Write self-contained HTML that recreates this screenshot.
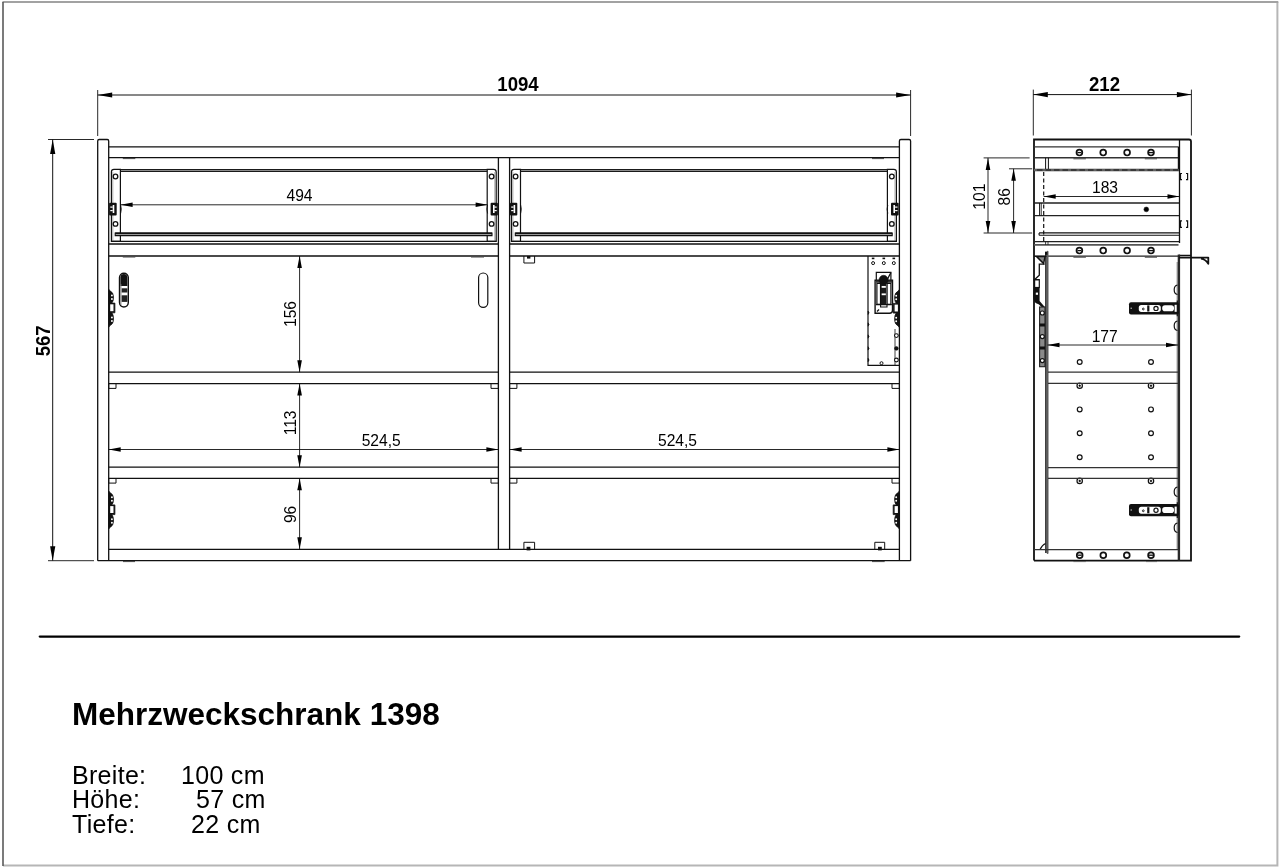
<!DOCTYPE html>
<html><head><meta charset="utf-8">
<style>
html,body{margin:0;padding:0;background:#fff;}
body{width:1280px;height:868px;overflow:hidden;position:relative;font-family:"Liberation Sans",sans-serif;}
svg{position:absolute;left:0;top:0;will-change:transform;}
.t{will-change:transform;}
svg text{font-family:"Liberation Sans",sans-serif;}
.t{position:absolute;color:#000;white-space:pre;line-height:1;}
</style></head><body>
<svg width="1280" height="868" viewBox="0 0 1280 868">

<path d="M1277.4,2 V865.4 H3" fill="none" stroke="#b6b6b6" stroke-width="2"/><path d="M2.5,2.1 H1278.3" fill="none" stroke="#a2a2a2" stroke-width="2"/>
<path d="M3,2 V866" fill="none" stroke="#5a5a5a" stroke-width="1.6"/>
<g fill="none" stroke="#111" stroke-width="1.1" stroke-linecap="butt">
<path d="M97.7,90 V136 M910.6,90 V136" stroke-width="0.9"/>
<path d="M97.7,95 H910.6" stroke-width="1"/><path d="M97.70,95.00 L112.20,92.40 L112.20,97.60 Z" fill="#000" stroke="none"/><path d="M910.60,95.00 L896.10,97.60 L896.10,92.40 Z" fill="#000" stroke="none"/>
<text x="0" y="0" font-size="19.7" font-weight="bold" text-anchor="middle" transform="translate(518 90.8) scale(0.945 1)" fill="#000" stroke="none">1094</text>
<path d="M48,139.5 H94 M48,560.7 H94" stroke-width="0.9"/>
<path d="M52.7,139.5 V560.7" stroke-width="1"/><path d="M52.70,139.50 L55.30,154.00 L50.10,154.00 Z" fill="#000" stroke="none"/><path d="M52.70,560.70 L50.10,546.20 L55.30,546.20 Z" fill="#000" stroke="none"/>
<text x="0" y="0" font-size="19.7" font-weight="bold" text-anchor="middle" transform="translate(49.5 340.8) rotate(-90) scale(0.945 1)" fill="#000" stroke="none">567</text>
<path d="M97.7,560.7 V141.0 Q97.7,139.5 99.2,139.5 H107.2 Q108.7,139.5 108.7,141.0 V560.7" stroke-width="1.3"/>
<path d="M899.4,560.7 V141.0 Q899.4,139.5 900.9,139.5 H909.1 Q910.6,139.5 910.6,141.0 V560.7" stroke-width="1.3"/>
<path d="M97.7,560.7 H910.6" stroke-width="1.3"/>
<path d="M108.7,146.8 H899.4 M108.7,157.7 H899.4" stroke-width="1.3"/>
<path d="M498.4,157.7 V549.2 M509.6,157.7 V549.2" stroke-width="1.3"/>
<path d="M108.7,549.4 H899.4" stroke-width="1.3"/>
<path d="M108.7,244 H498.4 M509.6,244 H899.4" stroke-width="1.3"/>
<path d="M108.7,256 H498.4 M509.6,256 H899.4" stroke-width="1.3"/>
<path d="M108.7,372.2 H498.4 M509.6,372.2 H899.4" stroke-width="1.3"/>
<path d="M108.7,383.6 H498.4 M509.6,383.6 H899.4" stroke-width="1.3"/>
<path d="M108.7,467.2 H498.4 M509.6,467.2 H899.4" stroke-width="1.3"/>
<path d="M108.7,478.3 H498.4 M509.6,478.3 H899.4" stroke-width="1.3"/>
<path d="M122.8,158.6 H135.3 M872,158.6 H884 M122.8,257 H135.3 M471,257 H484 M123,561.6 H135 M872,561.6 H884.7" stroke-width="1" stroke="#444"/>
<path d="M111.4,241.4 V172 Q111.4,169.4 114.0,169.4 H120.4 V241.4 Z" stroke-width="1.2"/><path d="M496.2,241.4 V172 Q496.2,169.4 493.59999999999997,169.4 H487.2 V241.4 Z" stroke-width="1.2"/><path d="M112.80000000000001,172 V241" stroke-width="0.7" stroke="#888"/><path d="M494.8,172 V241" stroke-width="0.7" stroke="#888"/><path d="M120.4,169.6 H487.2 M120.4,171.4 H487.2" stroke-width="1.2" stroke="#1a1a1a"/><path d="M111.4,241.4 H496.2" stroke-width="1.1"/><path d="M115.2,233 H492.0 V235.6 H115.2 Z" fill="#999" stroke-width="1.1"/><path d="M115.2,233.3 H492.0" stroke-width="1.6"/><circle cx="115.5" cy="176.5" r="2.3" stroke-width="1.3" fill="none"/><circle cx="115.5" cy="223.9" r="2.3" stroke-width="1.3" fill="none"/><circle cx="491.59999999999997" cy="176.5" r="2.3" stroke-width="1.3" fill="none"/><circle cx="491.59999999999997" cy="223.9" r="2.3" stroke-width="1.3" fill="none"/>
<path d="M511.5,241.4 V172 Q511.5,169.4 514.1,169.4 H520.5 V241.4 Z" stroke-width="1.2"/><path d="M896.4,241.4 V172 Q896.4,169.4 893.8,169.4 H887.4 V241.4 Z" stroke-width="1.2"/><path d="M512.9,172 V241" stroke-width="0.7" stroke="#888"/><path d="M895.0,172 V241" stroke-width="0.7" stroke="#888"/><path d="M520.5,169.6 H887.4 M520.5,171.4 H887.4" stroke-width="1.2" stroke="#1a1a1a"/><path d="M511.5,241.4 H896.4" stroke-width="1.1"/><path d="M515.3,233 H892.1999999999999 V235.6 H515.3 Z" fill="#999" stroke-width="1.1"/><path d="M515.3,233.3 H892.1999999999999" stroke-width="1.6"/><circle cx="515.6" cy="176.5" r="2.3" stroke-width="1.3" fill="none"/><circle cx="515.6" cy="223.9" r="2.3" stroke-width="1.3" fill="none"/><circle cx="891.8" cy="176.5" r="2.3" stroke-width="1.3" fill="none"/><circle cx="891.8" cy="223.9" r="2.3" stroke-width="1.3" fill="none"/>
<rect x="109.1" y="202.7" width="7.6000000000000085" height="12.7" rx="1" fill="#111" stroke="none"/><rect x="110.3" y="206.5" width="2.4" height="1.2" fill="#fff" stroke="none"/><rect x="110.3" y="210" width="2.4" height="1.2" fill="#fff" stroke="none"/><rect x="112.69999999999999" y="205" width="1.6" height="8" fill="#fff" stroke="none"/>
<rect x="490.6" y="202.7" width="7.2999999999999545" height="12.7" rx="1" fill="#111" stroke="none"/><rect x="494.29999999999995" y="206.5" width="2.4" height="1.2" fill="#fff" stroke="none"/><rect x="494.29999999999995" y="210" width="2.4" height="1.2" fill="#fff" stroke="none"/><rect x="493.0" y="205" width="1.6" height="8" fill="#fff" stroke="none"/>
<rect x="510" y="202.7" width="7.2999999999999545" height="12.7" rx="1" fill="#111" stroke="none"/><rect x="511.2" y="206.5" width="2.4" height="1.2" fill="#fff" stroke="none"/><rect x="511.2" y="210" width="2.4" height="1.2" fill="#fff" stroke="none"/><rect x="513.6" y="205" width="1.6" height="8" fill="#fff" stroke="none"/>
<rect x="891" y="202.7" width="7.7000000000000455" height="12.7" rx="1" fill="#111" stroke="none"/><rect x="895.1" y="206.5" width="2.4" height="1.2" fill="#fff" stroke="none"/><rect x="895.1" y="210" width="2.4" height="1.2" fill="#fff" stroke="none"/><rect x="893.4" y="205" width="1.6" height="8" fill="#fff" stroke="none"/>
<path d="M120.6,205 Q122,209 120.6,213.5 M487.6,205 Q486.2,209 487.6,213.5 M520.6,205 Q522,209 520.6,213.5 M887.8,205 Q886.4,209 887.8,213.5" stroke-width="0.9"/>
<path d="M120.6,204.8 H487.6" stroke-width="0.9"/><path d="M120.60,204.80 L132.60,202.50 L132.60,207.10 Z" fill="#000" stroke="none"/><path d="M487.60,204.80 L475.60,207.10 L475.60,202.50 Z" fill="#000" stroke="none"/>
<text x="0" y="0" font-size="17" font-weight="normal" text-anchor="middle" transform="translate(299.5 201) scale(0.92 1)" fill="#000" stroke="none">494</text>
<rect x="119.5" y="273.2" width="8.8" height="33.8" rx="4.4" fill="#fff" stroke="#111" stroke-width="1.4"/>
<path d="M120.4,284 V277.5 Q120.4,274 123.9,274 Q127.4,274 127.4,277.5 V286 H120.4 Z" fill="#111" stroke="none"/>
<rect x="121.6" y="288.3" width="5.8" height="4.2" fill="#222" stroke="none"/>
<rect x="121.6" y="295.3" width="5.8" height="6.6" fill="#222" stroke="none"/>
<path d="M120.9,284 V305" stroke="#777" stroke-width="0.9"/>
<rect x="478.6" y="273" width="9.2" height="34.4" rx="4.6" stroke-width="1.2"/>
<path d="M108.7,289.2 L109.9,290.8 Q113.5,292.2 113.5,297.2 Q113.5,301.5 111.8,303.09999999999997 H114.9 V312.8 H111.8 Q113.5,314.4 113.5,319.2 Q113.5,324.2 109.9,325.59999999999997 L108.7,327.2 Z" fill="#111" stroke="#111" stroke-width="0.8"/><rect x="110.2" y="304.3" width="3.3" height="6.9" fill="#fff" stroke="none"/><circle cx="111.9" cy="295.5" r="0.95" fill="#fff" stroke="none"/><circle cx="111.9" cy="299.0" r="0.95" fill="#fff" stroke="none"/><circle cx="111.9" cy="317.5" r="0.95" fill="#fff" stroke="none"/><circle cx="111.9" cy="321.0" r="0.95" fill="#fff" stroke="none"/>
<path d="M108.7,491 L109.9,492.6 Q113.5,494 113.5,499 Q113.5,503.3 111.8,504.9 H114.9 V514.6 H111.8 Q113.5,516.2 113.5,521 Q113.5,526 109.9,527.4 L108.7,529 Z" fill="#111" stroke="#111" stroke-width="0.8"/><rect x="110.2" y="506.1" width="3.3" height="6.9" fill="#fff" stroke="none"/><circle cx="111.9" cy="497.3" r="0.95" fill="#fff" stroke="none"/><circle cx="111.9" cy="500.8" r="0.95" fill="#fff" stroke="none"/><circle cx="111.9" cy="519.3" r="0.95" fill="#fff" stroke="none"/><circle cx="111.9" cy="522.8" r="0.95" fill="#fff" stroke="none"/>
<path d="M899.4,491 L898.1999999999999,492.6 Q894.6,494 894.6,499 Q894.6,503.3 896.3,504.9 H893.1999999999999 V514.6 H896.3 Q894.6,516.2 894.6,521 Q894.6,526 898.1999999999999,527.4 L899.4,529 Z" fill="#111" stroke="#111" stroke-width="0.8"/><rect x="894.6" y="506.1" width="3.3" height="6.9" fill="#fff" stroke="none"/><circle cx="896.1999999999999" cy="497.3" r="0.95" fill="#fff" stroke="none"/><circle cx="896.1999999999999" cy="500.8" r="0.95" fill="#fff" stroke="none"/><circle cx="896.1999999999999" cy="519.3" r="0.95" fill="#fff" stroke="none"/><circle cx="896.1999999999999" cy="522.8" r="0.95" fill="#fff" stroke="none"/>
<path d="M899.4,289.5 L898.1999999999999,291.1 Q894.6,292.5 894.6,297.5 Q894.6,301.8 896.3,303.4 H893.1999999999999 V313.1 H896.3 Q894.6,314.7 894.6,319.5 Q894.6,324.5 898.1999999999999,325.9 L899.4,327.5 Z" fill="#111" stroke="#111" stroke-width="0.8"/><rect x="894.6" y="304.6" width="3.3" height="6.9" fill="#fff" stroke="none"/><circle cx="896.1999999999999" cy="295.8" r="0.95" fill="#fff" stroke="none"/><circle cx="896.1999999999999" cy="299.3" r="0.95" fill="#fff" stroke="none"/><circle cx="896.1999999999999" cy="317.8" r="0.95" fill="#fff" stroke="none"/><circle cx="896.1999999999999" cy="321.3" r="0.95" fill="#fff" stroke="none"/>
<path d="M868,256 V365.3 H899.4" stroke-width="1.2"/>
<circle cx="873.1" cy="263.1" r="1.5" stroke-width="1" fill="none"/>
<rect x="871.8000000000001" y="257.6" width="2.6" height="1.6" fill="#111" stroke="none"/>
<circle cx="883.8" cy="263.1" r="1.5" stroke-width="1" fill="none"/>
<rect x="882.5" y="257.6" width="2.6" height="1.6" fill="#111" stroke="none"/>
<circle cx="893.8" cy="263.1" r="1.5" stroke-width="1" fill="none"/>
<rect x="892.5" y="257.6" width="2.6" height="1.6" fill="#111" stroke="none"/>
<path d="M875.1,280.2 V313.2 H889.5 Q892.5,313.2 892.5,310.2 V280.2 Z" stroke-width="1.4" fill="#fff"/>
<path d="M876.3,280.2 V272.3 H890.9 V280.2" stroke-width="1.2"/>
<path d="M890.9,272.5 L886.5,281" stroke-width="1.3"/>
<rect x="881" y="281" width="5.4" height="23" fill="#1a1a1a" stroke="none"/>
<rect x="881.6" y="286" width="4.2" height="1.8" fill="#fff" stroke="none"/>
<rect x="881.6" y="293.4" width="4.2" height="1.8" fill="#fff" stroke="none"/>
<rect x="876.9" y="283.4" width="3.6" height="20.9" stroke-width="1.2" fill="#fff"/>
<rect x="887.1" y="283.4" width="3.8" height="20.9" stroke-width="1.2" fill="#fff"/>
<path d="M876,304.6 H891.8 M880.6,304.6 V307 H887 V304.6" stroke-width="1.1"/>
<rect x="876" y="280.6" width="16" height="2.2" fill="#333" stroke="none"/>
<circle cx="883.6" cy="279.9" r="4.6" stroke-width="0.5" fill="#111"/>
<path d="M877,311.5 L879,309.5" stroke-width="1.2"/>
<path d="M868,311.1 Q870.2,312.8 868,314.5 Z" fill="#111" stroke-width="0.6"/>
<path d="M868,322.8 Q870.2,324.5 868,326.2 Z" fill="#111" stroke-width="0.6"/>
<path d="M868,334.8 Q870.2,336.5 868,338.2 Z" fill="#111" stroke-width="0.6"/>
<path d="M868,346.7 Q870.2,348.4 868,350.09999999999997 Z" fill="#111" stroke-width="0.6"/>
<path d="M868,358.3 Q870.2,360 868,361.7 Z" fill="#111" stroke-width="0.6"/>
<path d="M895,329 V365.3" stroke-width="0.8"/>
<circle cx="896.4" cy="335.6" r="1.9" stroke-width="1.1" fill="#fff"/>
<circle cx="896.4" cy="348.4" r="1.9" stroke-width="0.5" fill="#111"/>
<circle cx="896.4" cy="360" r="1.9" stroke-width="1.1" fill="#fff"/>
<circle cx="881.5" cy="363.2" r="1.5" stroke-width="1" fill="none"/>
<path d="M108.7,383.6 V388.40000000000003 H116 V383.6" stroke-width="1"/>
<path d="M491,383.6 V388.40000000000003 H498.4 V383.6" stroke-width="1"/>
<path d="M509.6,383.6 V388.40000000000003 H516.9 V383.6" stroke-width="1"/>
<path d="M892,383.6 V388.40000000000003 H899.4 V383.6" stroke-width="1"/>
<path d="M108.7,478.3 V483.1 H116 V478.3" stroke-width="1"/>
<path d="M491,478.3 V483.1 H498.4 V478.3" stroke-width="1"/>
<path d="M509.6,478.3 V483.1 H516.9 V478.3" stroke-width="1"/>
<path d="M892,478.3 V483.1 H899.4 V478.3" stroke-width="1"/>
<path d="M523.9,256 V263 H534.6 V256" stroke-width="1"/>
<path d="M874.8,549.2 V542.3 H884.7 V549.2" stroke-width="1"/>
<path d="M523.9,549.2 V542.3 H534.6 V549.2" stroke-width="1"/>
<rect x="526.6" y="546.8" width="3.8" height="3.6" fill="#111" stroke="none"/>
<rect x="527" y="256" width="3.4" height="2.6" fill="#111" stroke="none"/>
<rect x="878" y="546.8" width="3.8" height="3.6" fill="#111" stroke="none"/>
<path d="M299.6,256 V372.2" stroke-width="0.9"/><path d="M299.60,256.00 L301.90,268.00 L297.30,268.00 Z" fill="#000" stroke="none"/><path d="M299.60,372.20 L297.30,360.20 L301.90,360.20 Z" fill="#000" stroke="none"/>
<text x="0" y="0" font-size="17" font-weight="normal" text-anchor="middle" transform="translate(296 314) rotate(-90) scale(0.92 1)" fill="#000" stroke="none">156</text>
<path d="M299.6,383.6 V467.2" stroke-width="0.9"/><path d="M299.60,383.60 L301.90,395.60 L297.30,395.60 Z" fill="#000" stroke="none"/><path d="M299.60,467.20 L297.30,455.20 L301.90,455.20 Z" fill="#000" stroke="none"/>
<text x="0" y="0" font-size="17" font-weight="normal" text-anchor="middle" transform="translate(296 422.9) rotate(-90) scale(0.92 1)" fill="#000" stroke="none">113</text>
<path d="M299.6,478.3 V549.2" stroke-width="0.9"/><path d="M299.60,478.30 L301.90,490.30 L297.30,490.30 Z" fill="#000" stroke="none"/><path d="M299.60,549.20 L297.30,537.20 L301.90,537.20 Z" fill="#000" stroke="none"/>
<text x="0" y="0" font-size="17" font-weight="normal" text-anchor="middle" transform="translate(296 514.4) rotate(-90) scale(0.92 1)" fill="#000" stroke="none">96</text>
<path d="M108.7,449.5 H498.4" stroke-width="0.9"/><path d="M108.70,449.50 L120.70,447.20 L120.70,451.80 Z" fill="#000" stroke="none"/><path d="M498.40,449.50 L486.40,451.80 L486.40,447.20 Z" fill="#000" stroke="none"/>
<text x="0" y="0" font-size="17" font-weight="normal" text-anchor="middle" transform="translate(381.2 446) scale(0.92 1)" fill="#000" stroke="none">524,5</text>
<path d="M509.6,449.5 H899.4" stroke-width="0.9"/><path d="M509.60,449.50 L521.60,447.20 L521.60,451.80 Z" fill="#000" stroke="none"/><path d="M899.40,449.50 L887.40,451.80 L887.40,447.20 Z" fill="#000" stroke="none"/>
<text x="0" y="0" font-size="17" font-weight="normal" text-anchor="middle" transform="translate(677.5 446) scale(0.92 1)" fill="#000" stroke="none">524,5</text>
<path d="M1033.3,89.6 V135.5 M1191.4,89.6 V135.5" stroke-width="0.9"/>
<path d="M1033.3,94.6 H1191.4" stroke-width="1"/><path d="M1033.30,94.60 L1047.80,92.00 L1047.80,97.20 Z" fill="#000" stroke="none"/><path d="M1191.40,94.60 L1176.90,97.20 L1176.90,92.00 Z" fill="#000" stroke="none"/>
<text x="0" y="0" font-size="19.7" font-weight="bold" text-anchor="middle" transform="translate(1104.5 90.6) scale(0.945 1)" fill="#000" stroke="none">212</text>
<path d="M1034,560.6 V139.5 H1189 Q1191,139.5 1191,141.5 V560.6 H1034" stroke-width="1.8" stroke="#111"/>
<path d="M1179.5,139.5 V243 M1179,255.5 H1191" stroke-width="1.3"/>
<path d="M1178.9,254.4 V560.6" stroke-width="2.4" stroke="#2a2a2a"/>
<path d="M1034,146.9 H1178.7 M1034,157.8 H1178.7" stroke-width="1.4" stroke="#333"/>
<path d="M1178.7,146.9 V170" stroke-width="1.8"/>
<circle cx="1079.4" cy="152.6" r="2.9" stroke-width="1.7" fill="none"/><path d="M1077.4,152.6 H1081.4" stroke-width="1.3"/>
<circle cx="1103.2" cy="152.6" r="2.9" stroke-width="1.7" fill="none"/>
<circle cx="1127.1" cy="152.6" r="2.9" stroke-width="1.7" fill="none"/>
<circle cx="1151" cy="152.6" r="2.9" stroke-width="1.7" fill="none"/><path d="M1149,152.6 H1153" stroke-width="1.3"/>
<path d="M1073.4,158.8 H1085.9 M1144.8,158.8 H1157" stroke-width="1" stroke="#444"/>
<path d="M1045.6,157.8 V170 M1048.4,157.8 V170" stroke-width="1"/>
<path d="M1034,170 H1179" stroke-width="2.6" stroke="#3a3a3a"/>
<path d="M1034,170 H1179" stroke-width="0.8" stroke="#999" stroke-dasharray="3,5.5"/>
<path d="M1043.7,172 V241.6" stroke-width="1.2" stroke-dasharray="4,2.5"/>
<path d="M1034,203 H1179 M1034,215.6 H1179" stroke-width="1.3" stroke="#222"/>
<path d="M1039.5,203 V215.6 M1041.2,203 V215.6" stroke-width="0.9"/>
<circle cx="1146.3" cy="209.4" r="2.4" stroke-width="0.5" fill="#000"/>
<path d="M1182,173.5 H1180.5 V179.6 H1182 M1186,173.5 H1187.6 V179.6 H1186" stroke-width="1.2"/>
<path d="M1182,220.8 H1180.5 V227.3 H1182 M1186,220.8 H1187.6 V227.3 H1186" stroke-width="1.2"/>
<path d="M1039.1,232.9 H1179 M1039.1,235.3 H1179 M1039.1,232.9 V235.3" stroke-width="1.1"/>
<path d="M1034,241.7 H1179" stroke-width="1.3" stroke="#222"/>
<path d="M1034,244.8 H1178.5" stroke-width="1.8" stroke="#555"/>
<path d="M1045.6,241.7 V244.8 M1048,241.7 V244.8" stroke-width="0.8"/>
<circle cx="1079.4" cy="250.6" r="2.9" stroke-width="1.7" fill="none"/><path d="M1077.4,250.6 H1081.4" stroke-width="1.3"/>
<circle cx="1103.2" cy="250.6" r="2.9" stroke-width="1.7" fill="none"/>
<circle cx="1127.1" cy="250.6" r="2.9" stroke-width="1.7" fill="none"/>
<circle cx="1151" cy="250.6" r="2.9" stroke-width="1.7" fill="none"/><path d="M1149,250.6 H1153" stroke-width="1.3"/>
<path d="M1047,256.2 H1178.5" stroke-width="1.3" stroke="#222"/>
<path d="M1034,256.2 H1047" stroke-width="1.1" stroke="#444"/>
<path d="M1073.4,257.2 H1085.9 M1144.8,257.2 H1157" stroke-width="1" stroke="#444"/>
<path d="M1179,257.6 H1208.3 V263.8 Q1206,259.5 1201,258.6" stroke-width="1.8" stroke-linejoin="round"/>
<path d="M1047.6,251.7 V553" stroke-width="1.8" stroke="#5a5a5a" stroke-linecap="round"/><path d="M1045.9,251.7 V553" stroke-width="1.4" stroke="#111"/>
<path d="M1040,549.6 Q1042,545 1045.5,543.5" stroke-width="1.2"/>
<path d="M1177.2,262 V549.6" stroke-width="0.8" stroke="#555"/>
<rect x="1129" y="302.2" width="50" height="12.2" rx="2" fill="#111" stroke="none"/><rect x="1138.8" y="305.0" width="22" height="6.9" rx="2.6" fill="#fff" stroke="none"/><rect x="1147.2" y="305.4" width="2.2" height="6.1" fill="#111" stroke="none"/><circle cx="1156" cy="308.4" r="2.1" stroke-width="1.2" fill="none"/><circle cx="1143.3" cy="309.0" r="0.9" stroke-width="0.9" fill="none"/><rect x="1162.2" y="305.2" width="11.8" height="6" rx="2.8" fill="#fff" stroke="none"/><rect x="1174.6" y="304.8" width="2.6" height="7" fill="#fff" stroke="none"/><path d="M1177.3,300.4 V316.2" stroke-width="1.2"/><path d="M1130.6,308.2 H1131.8" stroke="#fff" stroke-width="1"/>
<rect x="1129" y="504" width="50" height="12.2" rx="2" fill="#111" stroke="none"/><rect x="1138.8" y="506.8" width="22" height="6.9" rx="2.6" fill="#fff" stroke="none"/><rect x="1147.2" y="507.2" width="2.2" height="6.1" fill="#111" stroke="none"/><circle cx="1156" cy="510.2" r="2.1" stroke-width="1.2" fill="none"/><circle cx="1143.3" cy="510.8" r="0.9" stroke-width="0.9" fill="none"/><rect x="1162.2" y="507" width="11.8" height="6" rx="2.8" fill="#fff" stroke="none"/><rect x="1174.6" y="506.6" width="2.6" height="7" fill="#fff" stroke="none"/><path d="M1177.3,502.2 V518" stroke-width="1.2"/><path d="M1130.6,510 H1131.8" stroke="#fff" stroke-width="1"/>
<path d="M1177.5,285 Q1174.2,285.6 1174.2,289.7 Q1174.2,293.9 1177.5,294.5" stroke-width="1.2"/>
<path d="M1177.5,321 Q1174.2,321.6 1174.2,325.7 Q1174.2,329.9 1177.5,330.5" stroke-width="1.2"/>
<path d="M1177.5,487 Q1174.2,487.6 1174.2,491.7 Q1174.2,495.9 1177.5,496.5" stroke-width="1.2"/>
<path d="M1177.5,523 Q1174.2,523.6 1174.2,527.7 Q1174.2,531.9 1177.5,532.5" stroke-width="1.2"/>
<path d="M1047.5,345 H1178" stroke-width="0.9"/><path d="M1047.50,345.00 L1059.50,342.70 L1059.50,347.30 Z" fill="#000" stroke="none"/><path d="M1178.00,345.00 L1166.00,347.30 L1166.00,342.70 Z" fill="#000" stroke="none"/>
<text x="0" y="0" font-size="17" font-weight="normal" text-anchor="middle" transform="translate(1104.7 341.5) scale(0.92 1)" fill="#000" stroke="none">177</text>
<circle cx="1079.7" cy="362" r="2.4" stroke-width="1.2" fill="none"/>
<circle cx="1151" cy="362" r="2.4" stroke-width="1.2" fill="none"/>
<circle cx="1079.7" cy="409.4" r="2.4" stroke-width="1.2" fill="none"/>
<circle cx="1151" cy="409.4" r="2.4" stroke-width="1.2" fill="none"/>
<circle cx="1079.7" cy="433.3" r="2.4" stroke-width="1.2" fill="none"/>
<circle cx="1151" cy="433.3" r="2.4" stroke-width="1.2" fill="none"/>
<circle cx="1079.7" cy="457.2" r="2.4" stroke-width="1.2" fill="none"/>
<circle cx="1151" cy="457.2" r="2.4" stroke-width="1.2" fill="none"/>
<circle cx="1079.7" cy="385.7" r="2.7" stroke-width="1.2" fill="none"/><circle cx="1079.7" cy="385.7" r="0.9" stroke-width="0.5" fill="#000"/>
<circle cx="1151" cy="385.7" r="2.7" stroke-width="1.2" fill="none"/><circle cx="1151" cy="385.7" r="0.9" stroke-width="0.5" fill="#000"/>
<circle cx="1079.7" cy="480.9" r="2.7" stroke-width="1.2" fill="none"/><circle cx="1079.7" cy="480.9" r="0.9" stroke-width="0.5" fill="#000"/>
<circle cx="1151" cy="480.9" r="2.7" stroke-width="1.2" fill="none"/><circle cx="1151" cy="480.9" r="0.9" stroke-width="0.5" fill="#000"/>
<path d="M1048,372.1 H1178 M1048,383.4 H1178 M1048,467.6 H1178 M1048,478.4 H1178" stroke-width="1.4" stroke="#333"/>
<path d="M1034,549.6 H1178" stroke-width="1.4" stroke="#333"/>
<circle cx="1079.7" cy="555.2" r="2.9" stroke-width="1.7" fill="none"/><path d="M1077.7,555.2 H1081.7" stroke-width="1.3"/>
<circle cx="1103.3" cy="555.2" r="2.9" stroke-width="1.7" fill="none"/>
<circle cx="1126.8" cy="555.2" r="2.9" stroke-width="1.7" fill="none"/>
<circle cx="1151" cy="555.2" r="2.9" stroke-width="1.7" fill="none"/><path d="M1149,555.2 H1153" stroke-width="1.3"/>
<path d="M1073.4,561.6 H1085.9 M1146,561.6 H1157" stroke-width="1" stroke="#666"/>
<path d="M1034,256.2 H1046" stroke-width="1.3"/>
<path d="M1036.6,256.6 L1045,256.6 L1043.6,263.6 Z" stroke-width="1.4" fill="#888"/>
<path d="M1044.6,264.2 H1039.3 V275.2 L1034.5,279.7 H1039.3" stroke-width="1.3"/>
<rect x="1034.6" y="279.7" width="4.7" height="7.8" stroke-width="1.2" fill="none"/>
<path d="M1033.8,287.6 H1039.6 V301 L1045,307.2 L1043.8,309 L1038.6,304.2 Q1033,303.5 1033.2,295 Z" fill="#111" stroke="none"/>
<rect x="1035.8" y="292.6" width="2.2" height="2.2" fill="#fff" stroke="none"/>
<rect x="1045" y="251.8" width="2.4" height="3" fill="#111" stroke="none"/>
<rect x="1039.6" y="307" width="5.4" height="59.7" fill="#8a8a8a" stroke="#222" stroke-width="1.1"/>
<circle cx="1042.3" cy="313" r="2" stroke-width="1.2" fill="#fff"/>
<circle cx="1042.3" cy="336.6" r="2" stroke-width="1.2" fill="#fff"/>
<circle cx="1042.3" cy="360.6" r="2" stroke-width="1.2" fill="#fff"/>
<rect x="1039.6" y="323.5" width="5.4" height="3" fill="#111" stroke="none"/>
<rect x="1039.6" y="346.5" width="5.4" height="3" fill="#111" stroke="none"/>
<path d="M983.6,157.9 H1029.6 M983.6,233 H1032.2 M1009,168.8 H1032.2" stroke-width="0.9"/>
<path d="M988,157.9 V233" stroke-width="0.9"/><path d="M988.00,157.90 L990.30,169.90 L985.70,169.90 Z" fill="#000" stroke="none"/><path d="M988.00,233.00 L985.70,221.00 L990.30,221.00 Z" fill="#000" stroke="none"/>
<text x="0" y="0" font-size="17" font-weight="normal" text-anchor="middle" transform="translate(985 196.7) rotate(-90) scale(0.92 1)" fill="#000" stroke="none">101</text>
<path d="M1013.6,168.8 V233" stroke-width="0.9"/><path d="M1013.60,168.80 L1015.90,180.80 L1011.30,180.80 Z" fill="#000" stroke="none"/><path d="M1013.60,233.00 L1011.30,221.00 L1015.90,221.00 Z" fill="#000" stroke="none"/>
<text x="0" y="0" font-size="17" font-weight="normal" text-anchor="middle" transform="translate(1010.3 196.7) rotate(-90) scale(0.92 1)" fill="#000" stroke="none">86</text>
<path d="M1043.7,196.5 H1179.5" stroke-width="0.9"/><path d="M1043.70,196.50 L1055.70,194.20 L1055.70,198.80 Z" fill="#000" stroke="none"/><path d="M1179.50,196.50 L1167.50,198.80 L1167.50,194.20 Z" fill="#000" stroke="none"/>
<text x="0" y="0" font-size="17" font-weight="normal" text-anchor="middle" transform="translate(1105 192.5) scale(0.92 1)" fill="#000" stroke="none">183</text>
</g>
<path d="M39.8,636.6 H1239.2" stroke="#000" stroke-width="2.3" stroke-linecap="round"/>
</svg>
<div class="t" style="left:71.5px;top:699px;font-size:31.5px;font-weight:bold;">Mehrzweckschrank 1398</div>
<div class="t" style="left:72px;top:762.5px;font-size:25px;letter-spacing:0.3px;">Breite:</div>
<div class="t" style="left:72px;top:787px;font-size:25px;letter-spacing:0.3px;">Höhe:</div>
<div class="t" style="left:72px;top:812px;font-size:25px;letter-spacing:0.3px;">Tiefe:</div>
<div class="t" style="left:180.5px;top:762.5px;font-size:25px;letter-spacing:0.3px;">100 cm</div>
<div class="t" style="left:195.5px;top:787px;font-size:25px;letter-spacing:0.3px;">57 cm</div>
<div class="t" style="left:190.5px;top:812px;font-size:25px;letter-spacing:0.3px;">22 cm</div>
</body></html>
